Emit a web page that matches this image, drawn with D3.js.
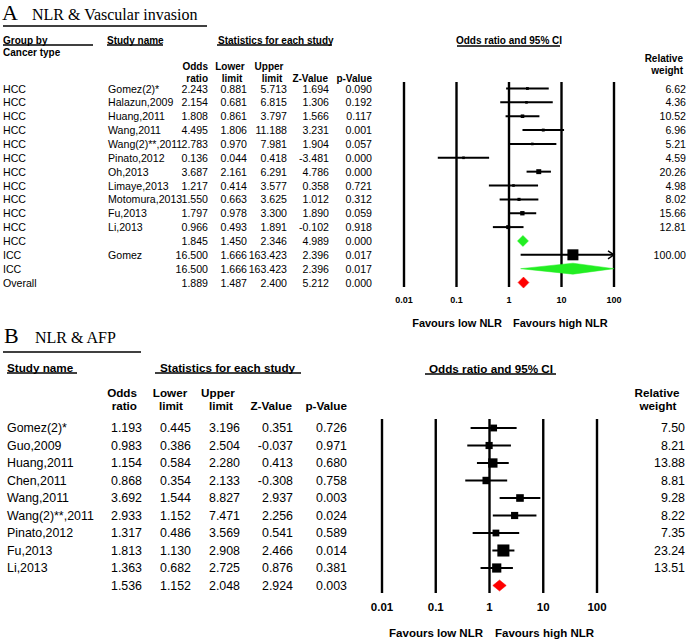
<!DOCTYPE html>
<html>
<head>
<meta charset="utf-8">
<script src="https://cdn.jsdelivr.net/npm/d3@7/dist/d3.min.js"></script>
<style>
  html, body { margin: 0; padding: 0; background: #fff; }
  svg { display: block; }
</style>
</head>
<body>
<script>
// ---------------- Panel A data ----------------
const groupsA = ["HCC","HCC","HCC","HCC","HCC","HCC","HCC","HCC","HCC","HCC","HCC","HCC","ICC","ICC","Overall"];
const studiesA = ["Gomez(2)*","Halazun,2009","Huang,2011","Wang,2011","Wang(2)**,2011","Pinato,2012","Oh,2013","Limaye,2013","Motomura,2013","Fu,2013","Li,2013","","Gomez","",""];
const rowTypeA = ["study","study","study","study","study","study","study","study","study","study","study","subtotal","study","subtotal","overall"];
const orA = [2.243,2.154,1.808,4.495,2.783,0.136,3.687,1.217,1.550,1.797,0.966,1.845,16.500,16.500,1.889];
const lowerA = [0.881,0.681,0.861,1.806,0.970,0.044,2.161,0.414,0.663,0.978,0.493,1.450,1.666,1.666,1.487];
const upperA = [5.713,6.815,3.797,11.188,7.981,0.418,6.291,3.577,3.625,3.300,1.891,2.346,163.423,163.423,2.400];
const zA = [1.694,1.306,1.566,3.231,1.904,-3.481,4.786,0.358,1.012,1.890,-0.102,4.989,2.396,2.396,5.212];
const pA = [0.090,0.192,0.117,0.001,0.057,0.000,0.000,0.721,0.312,0.059,0.918,0.000,0.017,0.017,0.000];
const weightA = [6.62,4.36,10.52,6.96,5.21,4.59,20.26,4.98,8.02,15.66,12.81,null,100.00,null,null];

// ---------------- Panel B data ----------------
const studiesB = ["Gomez(2)*","Guo,2009","Huang,2011","Chen,2011","Wang,2011","Wang(2)**,2011","Pinato,2012","Fu,2013","Li,2013",""];
const rowTypeB = ["study","study","study","study","study","study","study","study","study","overall"];
const orB = [1.193,0.983,1.154,0.868,3.692,2.933,1.317,1.813,1.363,1.536];
const lowerB = [0.445,0.386,0.584,0.354,1.544,1.152,0.486,1.130,0.682,1.152];
const upperB = [3.196,2.504,2.280,2.133,8.827,7.471,3.569,2.908,2.725,2.048];
const zB = [0.351,-0.037,0.413,-0.308,2.937,2.256,0.541,2.466,0.876,2.924];
const pB = [0.726,0.971,0.680,0.758,0.003,0.024,0.589,0.014,0.381,0.003];
const weightB = [7.50,8.21,13.88,8.81,9.28,8.22,7.35,23.24,13.51,null];

const tickValues = [0.01, 0.1, 1, 10, 100];
const tickLabels = ["0.01", "0.1", "1", "10", "100"];

// ---------------- drawing ----------------
const W = 689, H = 643;
const svg = d3.select("body").append("svg").attr("width", W).attr("height", H);
const SANS = "'Liberation Sans', Arial, sans-serif";
const SERIF = "'Liberation Serif', 'Times New Roman', serif";
const loc = d3.formatLocale({decimal: ".", thousands: ",", grouping: [3], currency: ["", ""], minus: "-"});
const f3 = loc.format(".3f");
const f2 = loc.format(".2f");
const GREEN = "#22ee22", RED = "#ff0000";

function txt(g, x, y, s, opts = {}) {
  return g.append("text")
    .attr("x", x).attr("y", y)
    .attr("dominant-baseline", opts.baseline || "central")
    .attr("text-anchor", opts.anchor || "start")
    .attr("font-family", opts.family || SANS)
    .attr("font-size", opts.size || 11)
    .attr("font-weight", opts.bold ? "bold" : "normal")
    .attr("fill", "#000")
    .text(s);
}
function uline(g, x1, x2, y, w = 1.3) {
  g.append("line").attr("x1", x1).attr("x2", x2).attr("y1", y).attr("y2", y)
    .attr("stroke", "#000").attr("stroke-width", w);
}

function drawPanel(cfg) {
  const g = svg.append("g");
  // title
  txt(g, cfg.titleX, cfg.titleY, cfg.letter, {family: SERIF, size: 22, baseline: "alphabetic"});
  txt(g, cfg.titleX2, cfg.titleY, cfg.title, {family: SERIF, size: 16, baseline: "alphabetic"});
  uline(g, 3, cfg.titleLineEnd, cfg.titleLineY, 1.5);

  // headers
  const hs = cfg.headSize;
  cfg.headers.forEach(h => {
    txt(g, h.x, h.y, h.t, {bold: true, size: hs, anchor: h.a || "start"});
    if (h.u) uline(g, h.u[0], h.u[1], h.u[2]);
  });

  // scale
  const x = d3.scaleLog().domain([0.01, 100]).range(cfg.plotRange);
  const y = i => cfg.row0 + i * cfg.rowStep;
  const n = cfg.or.length;

  // table body
  const bs = cfg.bodySize;
  for (let i = 0; i < n; i++) {
    if (cfg.groups) txt(g, cfg.colGroup, y(i), cfg.groups[i], {size: bs});
    txt(g, cfg.colStudy, y(i), cfg.studies[i], {size: bs});
    txt(g, cfg.colOR, y(i), f3(cfg.or[i]), {size: bs, anchor: "end"});
    txt(g, cfg.colLo, y(i), f3(cfg.lower[i]), {size: bs, anchor: "end"});
    txt(g, cfg.colUp, y(i), f3(cfg.upper[i]), {size: bs, anchor: "end"});
    txt(g, cfg.colZ, y(i), f3(cfg.z[i]), {size: bs, anchor: "end"});
    txt(g, cfg.colP, y(i), f3(cfg.p[i]), {size: bs, anchor: "end"});
    if (cfg.weight[i] != null) txt(g, cfg.colW, y(i), f2(cfg.weight[i]), {size: bs, anchor: "end"});
  }

  // vertical reference lines
  tickValues.forEach((v, k) => {
    g.append("line").attr("x1", x(v)).attr("x2", x(v))
      .attr("y1", cfg.lineTop).attr("y2", cfg.lineBottom)
      .attr("stroke", "#000").attr("stroke-width", 2.4);
    txt(g, x(v), cfg.tickY, tickLabels[k], {bold: true, size: cfg.tickSize, anchor: "middle"});
  });
  txt(g, cfg.favLowEnd, cfg.favY, "Favours low NLR", {bold: true, size: cfg.favSize, anchor: "end"});
  txt(g, cfg.favHighStart, cfg.favY, "Favours high NLR", {bold: true, size: cfg.favSize, anchor: "start"});

  const maxX = x(100), minX = x(0.01);
  for (let i = 0; i < n; i++) {
    const yy = y(i);
    const lo = Math.max(minX, x(cfg.lower[i]));
    const hiRaw = x(cfg.upper[i]);
    const clipped = hiRaw > maxX;
    const hi = Math.min(maxX, hiRaw);
    const mid = x(cfg.or[i]);
    if (cfg.rowType[i] === "study") {
      g.append("line").attr("x1", lo).attr("x2", hi).attr("y1", yy).attr("y2", yy)
        .attr("stroke", "#000").attr("stroke-width", 2);
      if (clipped) {
        g.append("path").attr("d", `M${hi - 6},${yy - 4} L${hi},${yy} L${hi - 6},${yy + 4}`)
          .attr("fill", "none").attr("stroke", "#000").attr("stroke-width", 1.4);
      }
      const s = Math.max(2.6, cfg.sqK * Math.sqrt(cfg.weight[i]));
      g.append("rect").attr("x", mid - s / 2).attr("y", yy - s / 2)
        .attr("width", s).attr("height", s).attr("fill", "#000");
    } else {
      const h = cfg.diaH;
      const col = cfg.rowType[i] === "overall" ? RED : GREEN;
      g.append("path")
        .attr("d", `M${lo},${yy} L${mid},${yy - h} L${hi},${yy} L${mid},${yy + h} Z`)
        .attr("fill", col).attr("stroke", col).attr("stroke-width", 0.5);
    }
  }
}

// Panel A
drawPanel({
  letter: "A", title: "NLR & Vascular invasion",
  titleX: 2, titleX2: 32, titleY: 20, titleLineEnd: 207, titleLineY: 26,
  headSize: 10,
  headers: [
    {t: "Group by", x: 3, y: 40, u: [3, 93, 45]},
    {t: "Cancer type", x: 3, y: 52},
    {t: "Study name", x: 107, y: 40, u: [107, 163, 45]},
    {t: "Statistics for each study", x: 218, y: 40, u: [217, 332, 45]},
    {t: "Odds", x: 208, y: 66, a: "end"},
    {t: "ratio", x: 208, y: 78, a: "end"},
    {t: "Lower", x: 230, y: 66, a: "middle"},
    {t: "limit", x: 232, y: 78, a: "middle"},
    {t: "Upper", x: 269, y: 66, a: "middle"},
    {t: "limit", x: 272, y: 78, a: "middle"},
    {t: "Z-Value", x: 328, y: 78, a: "end"},
    {t: "p-Value", x: 372, y: 78, a: "end"},
    {t: "Odds ratio and 95% CI", x: 509, y: 40, a: "middle", u: [457, 560, 46]},
    {t: "Relative", x: 683, y: 58, a: "end"},
    {t: "weight", x: 683, y: 70, a: "end"}
  ],
  groups: groupsA, studies: studiesA, rowType: rowTypeA,
  or: orA, lower: lowerA, upper: upperA, z: zA, p: pA, weight: weightA,
  bodySize: 10.6, colGroup: 3, colStudy: 108, colOR: 208, colLo: 247, colUp: 287, colZ: 329, colP: 372, colW: 686,
  row0: 88.5, rowStep: 13.86,
  plotRange: [404, 614], lineTop: 82, lineBottom: 287,
  tickY: 300, tickSize: 9, favY: 323, favSize: 11, favLowEnd: 502, favHighStart: 513,
  sqK: 1.1, diaH: 5.5
});

// Panel B
drawPanel({
  letter: "B", title: "NLR & AFP",
  titleX: 4, titleX2: 35, titleY: 343, titleLineEnd: 141, titleLineY: 352,
  headSize: 11.7,
  headers: [
    {t: "Study name", x: 7, y: 367, u: [7, 77, 373]},
    {t: "Statistics for each study", x: 160, y: 367, u: [155, 301, 373]},
    {t: "Odds", x: 137, y: 392, a: "end"},
    {t: "ratio", x: 137, y: 405, a: "end"},
    {t: "Lower", x: 170, y: 392, a: "middle"},
    {t: "limit", x: 171, y: 405, a: "middle"},
    {t: "Upper", x: 218, y: 392, a: "middle"},
    {t: "limit", x: 221, y: 405, a: "middle"},
    {t: "Z-Value", x: 292, y: 405, a: "end"},
    {t: "p-Value", x: 347, y: 405, a: "end"},
    {t: "Odds ratio and 95% CI", x: 491, y: 368, a: "middle", u: [425, 556, 374]},
    {t: "Relative", x: 657, y: 392, a: "middle"},
    {t: "weight", x: 658, y: 405, a: "middle"}
  ],
  groups: null, studies: studiesB, rowType: rowTypeB,
  or: orB, lower: lowerB, upper: upperB, z: zB, p: pB, weight: weightB,
  bodySize: 12.4, colStudy: 7, colOR: 142, colLo: 191, colUp: 240, colZ: 293, colP: 347, colW: 685,
  row0: 428, rowStep: 17.5,
  plotRange: [382, 597], lineTop: 419, lineBottom: 593,
  tickY: 607, tickSize: 11.5, favY: 633, favSize: 11.5, favLowEnd: 483, favHighStart: 495,
  sqK: 2.5, diaH: 5.5
});
</script>
</body>
</html>
